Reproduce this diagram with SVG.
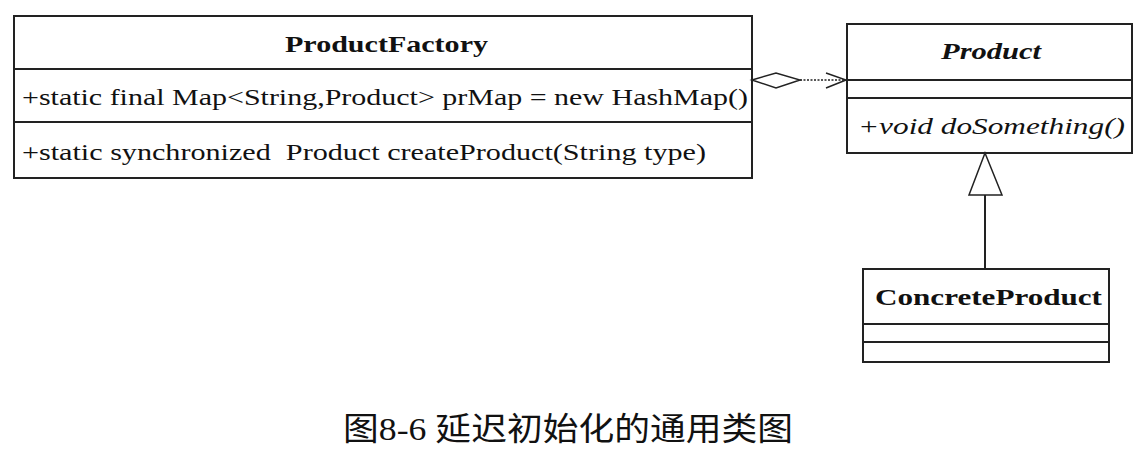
<svg xmlns="http://www.w3.org/2000/svg" width="1145" height="453" viewBox="0 0 1145 453">
<style>
.box{fill:#fff;stroke:#222;stroke-width:2}
.ln{stroke:#222;stroke-width:2;fill:none}
.t{font-family:'Liberation Serif','Times New Roman',Tinos,serif;font-size:24px;fill:#111}
.b{font-weight:bold}
.i{font-style:italic}
.cap{font-family:'Liberation Serif','Noto Sans CJK SC',serif;font-size:32px;fill:#111}
</style>
<rect width="1145" height="453" fill="#fff"/>
<g id="ProductFactory">
<rect class="box" x="14" y="16" width="738" height="162"/>
<line class="ln" x1="14" y1="69" x2="752" y2="69"/>
<line class="ln" x1="14" y1="122" x2="752" y2="122"/>
<text class="t b" x="285" y="52" font-family="Liberation Serif" textLength="203" lengthAdjust="spacingAndGlyphs">ProductFactory</text>
<text class="t" x="22" y="105" font-family="Liberation Serif" textLength="726" lengthAdjust="spacingAndGlyphs">+static final Map&lt;String,Product&gt; prMap = new HashMap()</text>
<text class="t" x="22" y="160" font-family="Liberation Serif" textLength="684" lengthAdjust="spacingAndGlyphs" xml:space="preserve">+static synchronized  Product createProduct(String type)</text>
</g>
<g id="Product">
<rect class="box" x="847" y="24" width="285" height="129"/>
<line class="ln" x1="847" y1="80" x2="1132" y2="80"/>
<line class="ln" x1="847" y1="98" x2="1132" y2="98"/>
<text class="t b i" x="941" y="59" font-family="Liberation Serif" textLength="100" lengthAdjust="spacingAndGlyphs">Product</text>
<text class="t i" x="858" y="134" font-family="Liberation Serif" textLength="267" lengthAdjust="spacingAndGlyphs">+void doSomething()</text>
</g>
<g id="ConcreteProduct">
<rect class="box" x="863" y="269" width="246" height="93"/>
<line class="ln" x1="863" y1="324" x2="1109" y2="324"/>
<line class="ln" x1="863" y1="342" x2="1109" y2="342"/>
<text class="t b" x="875" y="305" font-family="Liberation Serif" textLength="227" lengthAdjust="spacingAndGlyphs">ConcreteProduct</text>
</g>
<g id="connectors">
<polygon points="752,80 776,73 800,80 776,88" fill="#fff" stroke="#222" stroke-width="1.5"/>
<line x1="800" y1="80" x2="846" y2="80" stroke="#222" stroke-width="1.5" stroke-dasharray="2,1.5"/>
<polyline points="826,73 846,80 826,88" fill="none" stroke="#222" stroke-width="1.5"/>
<line class="ln" x1="985" y1="195" x2="985" y2="269"/>
<polygon points="985,153 969,195 1002,195" fill="#fff" stroke="#222" stroke-width="1.5"/>
</g>
<text class="cap" x="343" y="440" textLength="450" lengthAdjust="spacingAndGlyphs">图8-6 延迟初始化的通用类图</text>
</svg>
